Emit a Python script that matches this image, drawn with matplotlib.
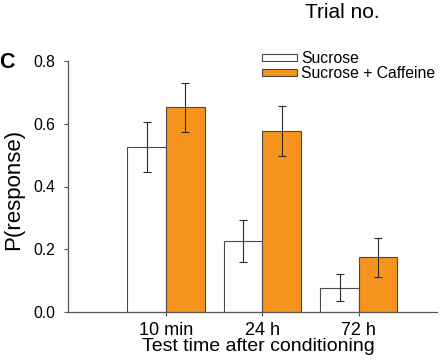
import matplotlib
matplotlib.use("Agg")
import matplotlib.pyplot as plt
import numpy as np

plt.rcParams['font.family'] = ['Liberation Sans', 'DejaVu Sans']

categories = ["10 min", "24 h", "72 h"]
series_names = ["Sucrose", "Sucrose + Caffeine"]
sucrose = [0.525, 0.226, 0.078]
sucrose_err = [0.080, 0.067, 0.043]
caffeine = [0.652, 0.577, 0.175]
caffeine_err = [0.077, 0.080, 0.062]
yticks = [0.0, 0.2, 0.4, 0.6, 0.8]

fig = plt.figure(figsize=(4.4, 3.64), dpi=100)
ax = fig.add_axes([68/440, 1-312/364, (437-68)/440, (312-61)/364])

x = np.arange(1, len(categories)+1)
w = 0.4
edge = '#4a4a4a'
ecol = '#2e2a26'
ax.bar(x - w/2, sucrose, w, color='white', edgecolor=edge, linewidth=0.8,
       label=series_names[0], zorder=2)
ax.bar(x + w/2, caffeine, w, color='#F7941D', edgecolor=edge, linewidth=0.8,
       label=series_names[1], zorder=2)
ax.errorbar(x - w/2, sucrose, yerr=sucrose_err, fmt='none', ecolor=ecol,
            elinewidth=0.8, capsize=3, capthick=0.8, zorder=3)
ax.errorbar(x + w/2, caffeine, yerr=caffeine_err, fmt='none', ecolor=ecol,
            elinewidth=0.8, capsize=3, capthick=0.8, zorder=3)

ax.set_xlim(-0.015, 3.81)
ax.set_ylim(0, 0.8)
ax.set_xticks(x)
ax.set_xticklabels(categories, fontsize=13)
ax.set_yticks(yticks)
ax.set_yticklabels([f"{v:.1f}" for v in yticks], fontsize=11.3)

for s in ['top', 'right']:
    ax.spines[s].set_visible(False)
for s in ['left', 'bottom']:
    ax.spines[s].set_color('#555555')
    ax.spines[s].set_linewidth(0.9)
ax.tick_params(axis='both', direction='out', length=3, width=0.8, color='#555555')
ax.tick_params(axis='y', pad=6)
ax.tick_params(axis='x', pad=4)

ax.set_xlabel("Test time after conditioning", fontsize=14)
ax.xaxis.set_label_coords(0.515, -0.105)
ax.set_ylabel("P(response)", fontsize=16)
ax.yaxis.set_label_coords(-0.12, 0.49)

leg = ax.legend(loc='upper left', bbox_to_anchor=((262-68)/369, 1.04),
                fontsize=11.3, frameon=False, handlelength=2.2, handleheight=0.35,
                handletextpad=0.3, labelspacing=0.02, borderpad=0, borderaxespad=0)

fig.text(7/440, 1-62/364, "C", fontsize=15.5, fontweight='bold', ha='center', va='center')
fig.text(342/440, 1-18/364, "Trial no.", fontsize=15, ha='center', va='baseline')

fig.savefig("out.png", dpi=100)
